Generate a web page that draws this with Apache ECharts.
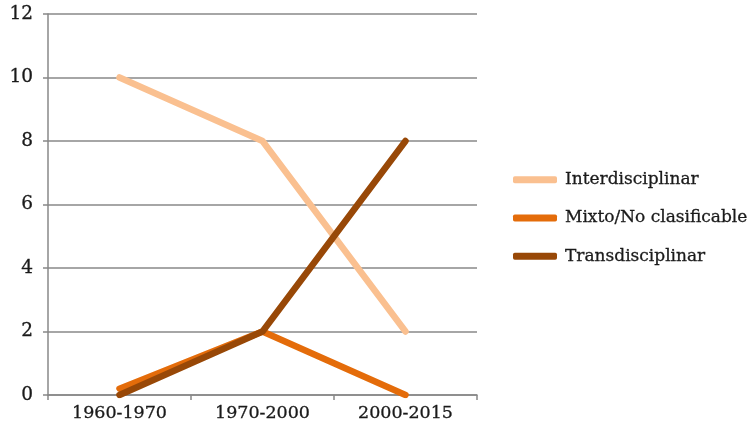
<!DOCTYPE html>
<html>
<head>
<meta charset="utf-8">
<script src="https://cdn.jsdelivr.net/npm/echarts@6/dist/echarts.min.js"></script>
<style>
  html, body { margin: 0; padding: 0; background: #fff; }
  #chart { width: 756px; height: 435px; }
</style>
</head>
<body>
<div id="chart"></div>
<script>
// Periods on the x axis
var categories = ['1960-1970', '1970-2000', '2000-2015'];

// Number of works per approach in each period
var interdisciplinar = [10, 8, 2];
var mixto = [0.2, 2, 0];
var transdisciplinar = [0, 2, 8];

var seriesNames = ['Interdisciplinar', 'Mixto/No clasificable', 'Transdisciplinar'];
var seriesColors = ['#FAC090', '#E46C0A', '#984807'];

var fontFamily = '"DejaVu Serif", "Liberation Serif", serif';
var textColor = '#1a1a1a';

var chart = echarts.init(document.getElementById('chart'));

function lineSeries(name, data, color) {
  return {
    name: name,
    type: 'line',
    data: data,
    symbol: 'none',
    smooth: false,
    lineStyle: { width: 6.5, color: color, cap: 'round', join: 'round' },
    itemStyle: { color: color }
  };
}

chart.setOption({
  animation: false,
  grid: { left: 48, right: 279, top: 14, bottom: 40 },
  xAxis: {
    type: 'category',
    data: categories,
    boundaryGap: true,
    axisLine: { lineStyle: { color: '#888', width: 1.5 } },
    axisTick: { show: true, length: 5, lineStyle: { color: '#888', width: 1.5 } },
    axisLabel: {
      color: textColor, fontSize: 17.5, fontFamily: fontFamily, margin: 9,
      textBorderColor: textColor, textBorderWidth: 0.3
    }
  },
  yAxis: {
    type: 'value',
    min: 0,
    max: 12,
    interval: 2,
    axisLine: { show: true, lineStyle: { color: '#888', width: 1.5 } },
    axisTick: { show: true, length: 5, lineStyle: { color: '#888', width: 1.5 } },
    splitLine: { lineStyle: { color: '#888', width: 1.5 } },
    axisLabel: {
      color: textColor, fontSize: 18.5, fontFamily: fontFamily, margin: 15,
      textBorderColor: textColor, textBorderWidth: 0.3
    }
  },
  legend: {
    orient: 'vertical',
    left: 513,
    top: 171,
    padding: 0,
    itemWidth: 44,
    itemHeight: 7,
    itemGap: 21,
    icon: 'roundRect',
    data: seriesNames,
    textStyle: {
      color: textColor, fontSize: 17, fontFamily: fontFamily, padding: [0, 0, 0, 3],
      textBorderColor: textColor, textBorderWidth: 0.3
    }
  },
  series: [
    lineSeries(seriesNames[0], interdisciplinar, seriesColors[0]),
    lineSeries(seriesNames[1], mixto, seriesColors[1]),
    lineSeries(seriesNames[2], transdisciplinar, seriesColors[2])
  ]
});
</script>
</body>
</html>
